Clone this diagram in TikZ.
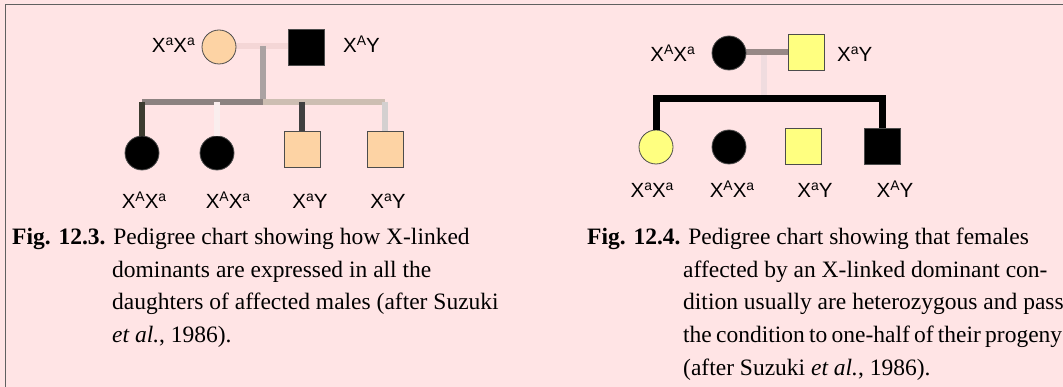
\documentclass[tikz,border=0pt]{standalone}
\usepackage{fontspec}
\setmainfont{Liberation Serif}
\newfontfamily\lsans{Liberation Sans}
\definecolor{bgpink}{HTML}{FFE4E5}
\definecolor{peach}{HTML}{FDD3A4}
\definecolor{lyellow}{HTML}{FFFF80}
\definecolor{framegray}{HTML}{606060}
\newcommand{\sps}[1]{\raisebox{0.36em}{\scalebox{0.68}{#1}}}
\tikzset{
  femnode/.style={circle, minimum size=34pt, inner sep=0pt, draw=black!70, line width=0.8pt},
  malnode/.style={rectangle, minimum size=36pt, inner sep=0pt, draw=black!70, line width=0.8pt},
  gentxt/.style={font=\lsans\fontsize{20.5}{23}\selectfont, inner sep=0pt},
  captxt/.style={font=\fontsize{23.5}{28}\selectfont, inner sep=0pt, anchor=base west},
  thickln/.style={line width=6pt},
}
\begin{document}
\begin{tikzpicture}[x=1pt,y=-1pt]
\fill[bgpink] (0,0) rectangle (1063,387);
\useasboundingbox (0,0) rectangle (1063,387);
\draw[framegray, line width=1.6pt] (5.5,387) -- (5.5,4.5) -- (1063,4.5);

% ---------- left pedigree ----------
\coordinate (Ltop) at (263,46);
\coordinate (Lsib) at (263,102);
\draw[thickln, color={rgb,255:red,244;green,214;blue,214}] (219,46) -- (306,46);
\draw[thickln, color={rgb,255:red,170;green,162;blue,162}] (Ltop) -- (Lsib);
\node[femnode, fill=peach] (Lmo) at (219,47) {};
\node[malnode, fill=black] (Lfa) at (306,47) {};
\node[femnode, fill=black] (Lc1) at (142,153) {};
\node[femnode, fill=black] (Lc2) at (217,153) {};
\node[malnode, fill=peach] (Lc3) at (302,149) {};
\node[malnode, fill=peach] (Lc4) at (385,149) {};
\draw[thickln, color={rgb,255:red,140;green,130;blue,128}] (Lc1.north |- Lsib) -- (Lsib);
\draw[thickln, color={rgb,255:red,205;green,190;blue,178}] (Lsib) -- (Lc4.north |- Lsib);
\draw[thickln, color={rgb,255:red,60;green,60;blue,48}] (Lc1.north |- Lsib) -- (Lc1.north);
\draw[thickln, color={rgb,255:red,250;green,238;blue,238}] (Lc2.north |- Lsib) -- (Lc2.north);
\draw[thickln, color={rgb,255:red,64;green,64;blue,64}] (Lc3.north |- Lsib) -- (Lc3.north);
\draw[thickln, color={rgb,255:red,212;green,208;blue,208}] (Lc4.north |- Lsib) -- (Lc4.north);

\node[gentxt, anchor=base east] (LmoL) at (195,53) {X\sps{a}X\sps{a}};
\node[gentxt, anchor=base west] (LfaL) at (343,53) {X\sps{A}Y};
\node[gentxt, anchor=base] (Lc1L) at (144,209) {X\sps{A}X\sps{a}};
\node[gentxt, anchor=base] (Lc2L) at (228,209) {X\sps{A}X\sps{a}};
\node[gentxt, anchor=base] (Lc3L) at (310,209) {X\sps{a}Y};
\node[gentxt, anchor=base] (Lc4L) at (388,209) {X\sps{a}Y};

% ---------- right pedigree ----------
\coordinate (Rtop) at (764,52);
\coordinate (Rsib) at (764,98.5);
\draw[thickln, color={rgb,255:red,240;green,220;blue,223}] (Rtop) -- (Rsib);
\draw[thickln, color={rgb,255:red,151;green,136;blue,134}] (729,52) -- (806,52);
\node[femnode, fill=black] (Rmo) at (729,53) {};
\node[malnode, fill=lyellow] (Rfa) at (806,52) {};
\node[femnode, fill=lyellow] (Rc1) at (656,147) {};
\node[femnode, fill=black] (Rc2) at (729,147) {};
\node[malnode, fill=lyellow] (Rc3) at (803,146) {};
\node[malnode, fill=black] (Rc4) at (882,146) {};
\draw[line width=7pt, line join=miter] (Rc1.north) |- (Rsib) -| (Rc4.north);

\node[gentxt, anchor=base east] (RmoL) at (695,62) {X\sps{A}X\sps{a}};
\node[gentxt, anchor=base west] (RfaL) at (837,62) {X\sps{a}Y};
\node[gentxt, anchor=base] (Rc1L) at (652,198) {X\sps{a}X\sps{a}};
\node[gentxt, anchor=base] (Rc2L) at (732,198) {X\sps{A}X\sps{a}};
\node[gentxt, anchor=base] (Rc3L) at (815,198) {X\sps{a}Y};
\node[gentxt, anchor=base] (Rc4L) at (895,198) {X\sps{A}Y};

% ---------- captions ----------
\node[captxt] (LcapA) at (12,245) {\textbf{Fig. 12.3.} Pedigree chart showing how X-linked};
\node[captxt] (LcapB) at (112,277.5) {dominants are expressed in all the};
\node[captxt] (LcapC) at (112,310) {daughters of affected males (after Suzuki};
\node[captxt] (LcapD) at (112,342.5) {\textit{et al.}, 1986).};

\node[captxt] (RcapA) at (587,245) {\textbf{Fig. 12.4.} Pedigree chart showing that females};
\node[captxt] (RcapB) at (683,277.5) {affected by an X-linked dominant con-};
\node[captxt] (RcapC) at (683,310) {dition usually are heterozygous and pass};
\node[captxt] (RcapD) at (683,342.5) {\makebox[379pt][s]{the condition to one-half of their progeny}};
\node[captxt] (RcapE) at (683,375) {(after Suzuki \textit{et al.}, 1986).};
\end{tikzpicture}
\end{document}
